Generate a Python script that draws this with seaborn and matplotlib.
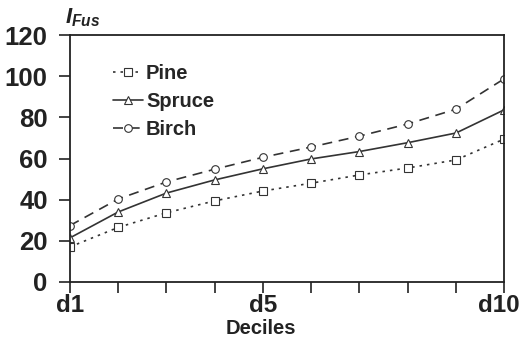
import numpy as np
import pandas as pd
import matplotlib
matplotlib.use("Agg")
import matplotlib.pyplot as plt
import matplotlib.transforms as mtrans
import seaborn as sns

# Data
deciles = np.arange(1, 11)
pine = [17.0, 26.5, 33.6, 39.4, 44.2, 48.0, 52.0, 55.4, 59.3, 69.5]
spruce = [21.4, 34.0, 43.2, 49.6, 55.0, 59.8, 63.4, 67.7, 72.4, 83.7]
birch = [27.4, 40.3, 48.6, 54.8, 60.6, 65.6, 70.9, 76.8, 84.0, 98.8]
xtick_labels = ["d1", "", "", "", "d5", "", "", "", "", "d10"]

sns.set_style("ticks")
plt.rcParams["font.family"] = ["Liberation Sans", "DejaVu Sans"]
plt.rcParams["mathtext.fontset"] = "custom"
plt.rcParams["mathtext.it"] = "Liberation Sans:bold:italic"
plt.rcParams["mathtext.rm"] = "Liberation Sans:bold:italic"

fig = plt.figure(figsize=(5.22, 3.48), dpi=100)
ax = fig.add_axes([0.134, 0.19, 0.832, 0.709])

col = "#333333"
series = [("Pine", pine, "s", (0, (1.5, 3))),
          ("Spruce", spruce, "^", "-"),
          ("Birch", birch, "o", (0, (6, 4)))]
for name, vals, mk, ls in series:
    sns.lineplot(x=deciles, y=vals, ax=ax, color=col, linestyle=ls, lw=1.2,
                 marker=mk, markersize=5.5, markerfacecolor="white",
                 markeredgecolor=col, markeredgewidth=0.8, label=name)

ax.set_xlim(1, 10)
ax.set_ylim(0, 120)
ax.set_xticks(deciles)
ax.set_xticklabels(xtick_labels)
ax.set_yticks(np.arange(0, 121, 20))
for sp in ax.spines.values():
    sp.set_visible(True)
    sp.set_linewidth(1.3)
    sp.set_color("#222222")
ax.tick_params(axis="both", direction="out", length=8, width=1.2,
               colors="#222222")
ax.tick_params(axis="y", labelsize=18.5, pad=8)
ax.tick_params(axis="x", labelsize=17.5, pad=1)
for t in ax.get_xticklabels() + ax.get_yticklabels():
    t.set_fontweight("bold")
# nudge d10 left so it stays inside the figure
last = ax.get_xticklabels()[-1]
last.set_transform(last.get_transform() +
                   mtrans.ScaledTranslation(-5 / 100, 0, fig.dpi_scale_trans))

ax.set_xlabel("")
ax.set_ylabel("")
fig.text(261 / 522, 1 - 329 / 348, "Deciles", fontsize=14.5, fontweight="bold",
         ha="center", va="center", color="#222222")
fig.text(0.124, 0.917, r"$I_{Fus}$", fontsize=16,
         ha="left", va="bottom", color="#222222")

leg = ax.legend(loc="upper left", bbox_to_anchor=(0.08, 0.915), frameon=False,
                handlelength=1.5, handletextpad=0.15, labelspacing=0.45,
                prop={"size": 14.5, "weight": "bold"}, borderaxespad=0)

fig.savefig("out.png", dpi=100)
